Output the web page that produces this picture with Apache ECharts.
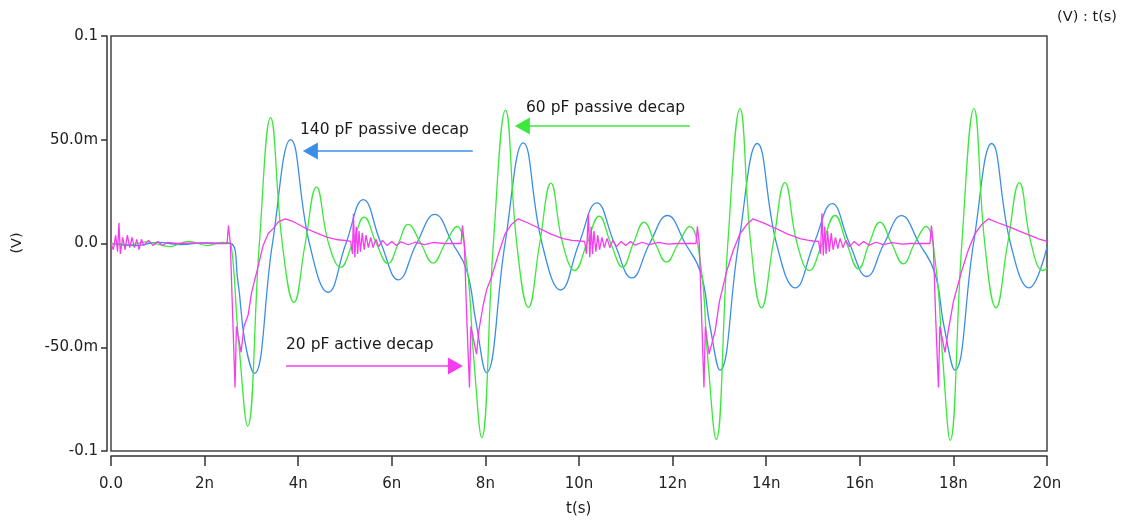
<!DOCTYPE html>
<html>
<head>
<meta charset="utf-8">
<script src="https://cdn.jsdelivr.net/npm/echarts@6/dist/echarts.min.js"></script>
<style>
  html, body { margin: 0; padding: 0; background: #fff; }
  #chart { width: 1123px; height: 520px; }
</style>
</head>
<body>
<div id="chart"></div>
<script>
// time in ns, voltage in mV
const xTickLabels = ['0.0', '2n', '4n', '6n', '8n', '10n', '12n', '14n', '16n', '18n', '20n']
const yTickValues = [-100, -50, 0, 50, 100]
const yTickLabels = ['-0.1', '-50.0m', '0.0', '50.0m', '0.1']

// 140 pF passive decap
const bluePassive140 = [
  [0, 0], [0.5, -1], [1, 0.5], [1.5, -0.5], [2, 0.3], [2.55, 0], [2.71, -18], [2.86, -47],
  [3.06, -62.6], [3.45, 0], [3.84, 50.1], [4.24, 0], [4.64, -23.5], [5.02, 0],
  [5.39, 21.1], [5.77, 0], [6.14, -17.5], [6.53, 0], [6.92, 14], [7.3, 0],
  [7.6, -13], [7.8, -38], [8.02, -62.2], [8.42, 0], [8.81, 48.5], [9.21, 0],
  [9.61, -22.4], [10.0, 0], [10.38, 19.6], [10.76, 0], [11.13, -16.6], [11.51, 0],
  [11.89, 13.5], [12.27, 0], [12.6, -14], [12.8, -40], [13.01, -61], [13.41, 0],
  [13.81, 48.2], [14.22, 0], [14.62, -21.4], [15.02, 0], [15.41, 19.2], [15.78, 0],
  [16.15, -15.9], [16.52, 0], [16.89, 13.4], [17.27, 0], [17.6, -14], [17.8, -40],
  [18.03, -61], [18.43, 0], [18.82, 48.2], [19.22, 0], [19.62, -21.4], [20, -1.8]
]

// 60 pF passive decap
const greenPassive60 = [
  [0, 0], [0.45, -0.5], [0.75, 0.8], [1.25, -1.5], [1.65, 1], [2.07, -1], [2.35, 0.5],
  [2.5, 0.4], [2.56, 0], [2.72, -45], [2.92, -88], [3.17, 0], [3.41, 60.7], [3.66, 0],
  [3.91, -28.4], [4.15, 0], [4.39, 27.2], [4.65, 0], [4.91, -11.4], [5.16, 0],
  [5.41, 12.7], [5.67, 0], [5.92, -9.7], [6.14, 0], [6.35, 9.2], [6.62, 0],
  [6.88, -9.5], [7.14, 0], [7.39, 8.2], [7.6, -10], [7.75, -55], [7.92, -93.6],
  [8.17, 0], [8.43, 64.3], [8.67, 0], [8.92, -30.8], [9.16, 0], [9.40, 29.1],
  [9.65, 0], [9.91, -13], [10.17, 0], [10.43, 13.2], [10.68, 0], [10.93, -11.4],
  [11.16, 0], [11.39, 10.3], [11.63, 0], [11.87, -9], [12.12, 0], [12.36, 8.2],
  [12.6, -10], [12.75, -55], [12.93, -94.4], [13.18, 0], [13.44, 65], [13.67, 0],
  [13.90, -31], [14.15, 0], [14.40, 29.3], [14.66, 0], [14.92, -13], [15.2, 0],
  [15.47, 13.5], [15.72, 0], [15.97, -12.2], [16.2, 0], [16.43, 10.3], [16.68, 0],
  [16.93, -9.8], [17.17, 0], [17.41, 8.2], [17.62, -10], [17.77, -55], [17.93, -94.9],
  [18.18, 0], [18.44, 65], [18.67, 0], [18.91, -31], [19.16, 0], [19.41, 29.3],
  [19.66, 0], [19.91, -13], [20, -12]
]

// 20 pF active decap
const magentaActive20 = [
  [0, 0], [0.05, -3], [0.1, 4], [0.14, -4], [0.17, 10], [0.2, -5], [0.25, 3],
  [0.3, -3], [0.35, 4], [0.4, -2], [0.45, 3], [0.5, -2], [0.55, 2], [0.6, -3],
  [0.65, 2], [0.7, -1], [0.8, 1.5], [0.9, -1], [1.0, 1], [1.1, -1], [1.2, 0.5],
  [1.4, 0], [1.8, 0.3], [2.2, 0], [2.48, 0], [2.51, 8.7], [2.55, 0], [2.6, -35],
  [2.65, -69.4], [2.68, -40], [2.72, -39.6], [2.78, -52.5], [2.84, -40], [2.93, -34.5],
  [3.0, -24], [3.15, -10.4], [3.25, -1], [3.36, 4.8], [3.47, 7.3], [3.57, 10.3],
  [3.72, 11.9], [3.9, 10.5], [4.18, 7.1], [4.4, 5], [4.61, 3.1], [4.85, 1.8],
  [5.04, 1.4], [5.12, 1], [5.16, -5], [5.18, 14.3], [5.21, -6.6], [5.24, 8],
  [5.27, -5], [5.3, 6], [5.33, -4], [5.37, 5], [5.41, -3], [5.45, 4], [5.5, -2],
  [5.55, 3], [5.6, -2], [5.66, 2], [5.72, -1.5], [5.8, 1.5], [5.9, -1], [6.0, 1],
  [6.1, -1], [6.2, 0.8], [6.35, -0.6], [6.5, 0.6], [6.7, -0.5], [6.9, 0.5], [7.1, 0],
  [7.48, 0], [7.51, 8.7], [7.55, 0], [7.6, -35], [7.66, -69.4], [7.69, -40],
  [7.72, -39.6], [7.81, -53.3], [7.86, -42], [7.95, -30], [8.03, -22], [8.13, -16.3],
  [8.28, -5], [8.42, 4.7], [8.55, 9], [8.70, 11.9], [8.9, 10], [9.17, 7.1],
  [9.4, 4.5], [9.66, 2.3], [9.85, 1.5], [10.02, 1.2], [10.12, 1], [10.16, -5],
  [10.2, 14.3], [10.23, -6.6], [10.26, 8], [10.29, -5], [10.32, 6], [10.36, -4],
  [10.4, 4], [10.44, -3], [10.49, 3], [10.54, -2], [10.6, 2.5], [10.66, -2],
  [10.72, 1.5], [10.8, -1.5], [10.9, 1], [11.0, -1], [11.1, 1], [11.2, -0.8],
  [11.35, 0.6], [11.5, -0.5], [11.7, 0.5], [11.9, -0.3], [12.1, 0], [12.5, 0],
  [12.53, 8.2], [12.57, 0], [12.62, -35], [12.67, -69.4], [12.7, -40], [12.73, -39.6],
  [12.78, -53.3], [12.91, -42], [13.0, -28], [13.16, -13], [13.3, -3], [13.44, 4.7],
  [13.58, 9], [13.72, 11.9], [13.95, 9.8], [14.22, 7.1], [14.45, 4.6], [14.72, 2.3],
  [14.88, 1.6], [15.0, 1.2], [15.12, 1], [15.16, -5], [15.19, 14.6], [15.22, -5.8],
  [15.25, 8], [15.28, -5], [15.31, 6], [15.35, -4], [15.39, 5], [15.43, -3],
  [15.48, 3], [15.53, -2.5], [15.58, 2.5], [15.64, -2], [15.7, 1.5], [15.78, -1.5],
  [15.88, 1], [15.98, -1], [16.08, 1], [16.2, -0.8], [16.35, 0.6], [16.5, -0.5],
  [16.7, 0.4], [16.9, -0.3], [17.1, 0], [17.5, 0], [17.53, 8.7], [17.57, 0],
  [17.62, -35], [17.68, -69.4], [17.71, -40], [17.73, -39.6], [17.82, -52.5],
  [17.89, -42], [18.0, -28], [18.18, -13], [18.32, -3], [18.46, 4.7], [18.6, 9],
  [18.75, 11.9], [18.95, 10], [19.21, 7.9], [19.42, 5.8], [19.64, 3.9], [19.82, 2.2],
  [20, 1]
]

// annotation arrows: [startT, endT, level]
const blueArrow = [7.73, 4.26, 44.6]
const greenArrow = [12.37, 8.79, 56.6]
const magentaArrow = [3.74, 7.36, -59.0]

const BLUE = '#3a8ee6'
const GREEN = '#3ce83c'
const MAGENTA = '#f53cf0'
const FONT = 'DejaVu Sans, sans-serif'

function arrowLine(arr, color) {
  return {
    silent: true,
    symbol: ['none', 'triangle'],
    symbolSize: [17, 15],
    label: { show: false },
    lineStyle: { color: color, width: 1.5, type: 'solid' },
    emphasis: { disabled: true },
    data: [[{ coord: [arr[0], arr[2]] }, { coord: [arr[1], arr[2]] }]]
  }
}

function note(text, x, y, size, align) {
  return {
    type: 'text', x: x, y: y,
    style: {
      text: text, fontSize: size, fontFamily: FONT, fill: '#1a1a1a',
      align: align || 'left', verticalAlign: 'middle'
    }
  }
}

const chart = echarts.init(document.getElementById('chart'))
chart.setOption({
  animation: false,
  backgroundColor: '#fff',
  grid: {
    left: 111, right: 76, top: 36, bottom: 69,
    show: true, borderColor: '#444', borderWidth: 1.5
  },
  xAxis: {
    type: 'value', min: 0, max: 20, interval: 2, offset: 5,
    axisLine: { onZero: false, lineStyle: { color: '#333', width: 1.5 } },
    axisTick: { length: 10, lineStyle: { color: '#333', width: 1.5 } },
    splitLine: { show: false },
    axisLabel: {
      margin: 21, color: '#222', fontSize: 15, fontFamily: FONT,
      formatter: v => xTickLabels[Math.round(v / 2)]
    }
  },
  yAxis: {
    type: 'value', min: -100, max: 100, interval: 50, offset: 4,
    axisLine: { onZero: false, lineStyle: { color: '#333', width: 1.5 } },
    axisTick: { length: 6, lineStyle: { color: '#333', width: 1.5 } },
    splitLine: { show: false },
    axisLabel: {
      margin: 9, color: '#222', fontSize: 15, fontFamily: FONT,
      formatter: v => yTickLabels[yTickValues.indexOf(Math.round(v))]
    }
  },
  series: [
    {
      name: '140 pF passive decap', type: 'line', data: bluePassive140,
      smooth: 0.45, showSymbol: false, lineStyle: { color: BLUE, width: 1.3 },
      markLine: arrowLine(blueArrow, BLUE)
    },
    {
      name: '60 pF passive decap', type: 'line', data: greenPassive60,
      smooth: 0.45, showSymbol: false, lineStyle: { color: GREEN, width: 1.3 },
      markLine: arrowLine(greenArrow, GREEN)
    },
    {
      name: '20 pF active decap', type: 'line', data: magentaActive20,
      showSymbol: false, lineStyle: { color: MAGENTA, width: 1.3 },
      markLine: arrowLine(magentaArrow, MAGENTA)
    }
  ],
  graphic: [
    note('140 pF passive decap', 300, 130, 15.5),
    note('60 pF passive decap', 526, 108, 15.5),
    note('20 pF active decap', 286, 345, 15.5),
    note('t(s)', 566, 509, 15),
    note('(V) : t(s)', 1117, 17, 14.5, 'right'),
    {
      type: 'text', x: 17, y: 243, rotation: Math.PI / 2,
      style: { text: '(V)', fontSize: 14.5, fontFamily: FONT, fill: '#222', align: 'center', verticalAlign: 'middle' }
    }
  ]
})
</script>
</body>
</html>
